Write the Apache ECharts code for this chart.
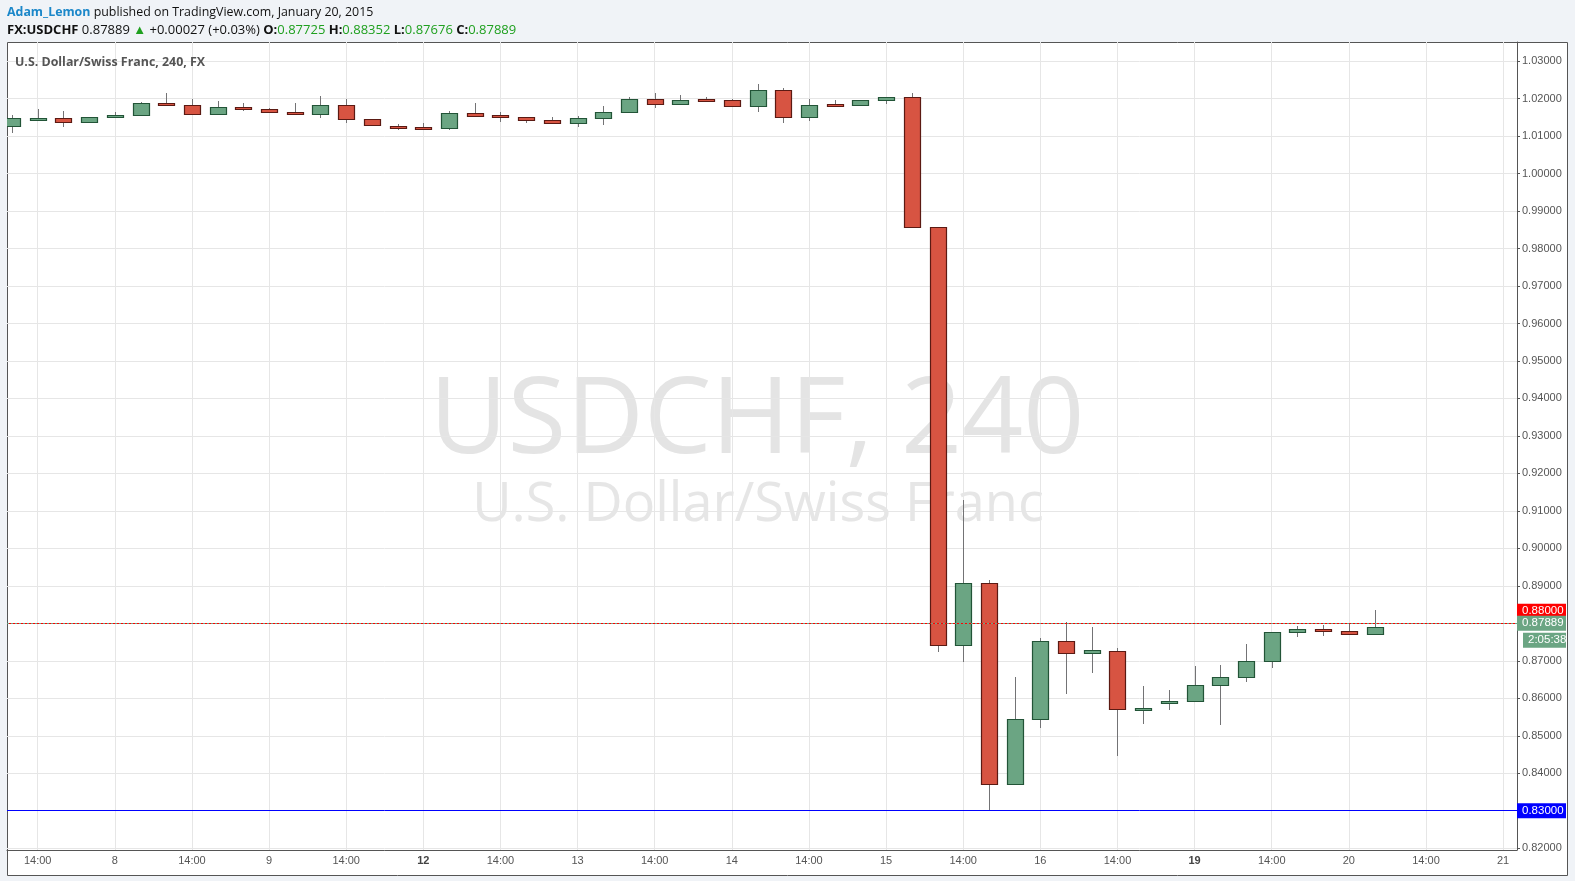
<!DOCTYPE html>
<html><head><meta charset="utf-8">
<script src="https://cdn.jsdelivr.net/npm/echarts@6/dist/echarts.min.js"></script>
<style>html,body{margin:0;padding:0;background:#f0f3f7;}#c{width:1575px;height:881px;}</style>
</head><body><div id="c"></div>
<script>
// 4-hour candles, USDCHF, Jan 7 – Jan 20 2015 (index = candle position)
const opens  = [1.0126,1.0147,1.0148,1.0137,1.0151,1.0156,1.0189,1.0184,1.0159,1.0178,1.0173,1.0165,1.0159,1.0184,1.0145,1.0126,1.0124,1.0121,1.0162,1.0155,1.0151,1.0143,1.0135,1.0148,1.0165,1.0200,1.0186,1.0198,1.0195,1.0181,1.0222,1.0151,1.0185,1.0184,1.0195,1.0203,0.9857,0.8742,0.8907,0.8371,0.8545,0.8752,0.8722,0.8727,0.8572,0.8589,0.8594,0.8635,0.8656,0.8699,0.8776,0.8784,0.8779,0.87725];
const closes = [1.0148,1.0148,1.0137,1.0151,1.0156,1.0189,1.0184,1.0159,1.0178,1.0172,1.0165,1.0159,1.0184,1.0145,1.0129,1.0124,1.0120,1.0162,1.0154,1.0151,1.0143,1.0135,1.0148,1.0165,1.0200,1.0186,1.0197,1.0194,1.0181,1.0222,1.0151,1.0184,1.0184,1.0195,1.0203,0.9857,0.8742,0.8907,0.8371,0.8545,0.8752,0.8722,0.8728,0.8572,0.8573,0.8594,0.8635,0.8656,0.8699,0.8776,0.8784,0.8779,0.8771,0.87889];
const highs  = [1.0157,1.0171,1.0166,1.0151,1.0163,1.0190,1.0215,1.0198,1.0193,1.0187,1.0174,1.0187,1.0206,1.0198,1.0146,1.0133,1.0135,1.0167,1.0187,1.0165,1.0152,1.0152,1.0154,1.0179,1.0203,1.0214,1.0209,1.0205,1.0200,1.0239,1.0227,1.0198,1.0195,1.0197,1.0203,1.0216,0.9858,0.9128,0.8916,0.8657,0.8761,0.8804,0.8790,0.8733,0.8632,0.8621,0.8686,0.8689,0.8745,0.8777,0.8792,0.8796,0.8800,0.88352];
const lows   = [1.0109,1.0144,1.0123,1.0135,1.0147,1.0155,1.0183,1.0158,1.0158,1.0166,1.0164,1.0158,1.0147,1.0134,1.0128,1.0115,1.0119,1.0115,1.0153,1.0138,1.0134,1.0134,1.0124,1.0130,1.0164,1.0175,1.0185,1.0191,1.0180,1.0164,1.0134,1.0139,1.0180,1.0180,1.0186,0.9856,0.8723,0.8698,0.8298,0.8369,0.8520,0.8611,0.8668,0.8445,0.8531,0.8569,0.8593,0.8530,0.8644,0.8682,0.8764,0.8767,0.8770,0.87676];
// time-axis tick positions (candle index) and their labels
const xTickIndex  = [1,4,7,10,13,16,19,22,25,28,31,34,37,40,43,46,49,52,55,58];
const xTickLabels = ['14:00','8','14:00','9','14:00','12','14:00','13','14:00','14','14:00','15','14:00','16','14:00','19','14:00','20','14:00','21'];
const xBoldLabels = ['12','19'];
const yTicks = [0.82,0.83,0.84,0.85,0.86,0.87,0.88,0.89,0.90,0.91,0.92,0.93,0.94,0.95,0.96,0.97,0.98,0.99,1.00,1.01,1.02,1.03];
const resistance = 0.88, support = 0.83, lastPrice = 0.87889, countdown = '2:05:38';

const candles = opens.map((o,i)=>[i,o,closes[i],lows[i],highs[i]]);
const UP_FILL='#6ba583', UP_LINE='#225437', DN_FILL='#d75442', DN_LINE='#5b1a13', WICK='#737375';
const chart = echarts.init(document.getElementById('c'));
const axisFont = '"Liberation Sans", Arial, sans-serif';
const hdrFont = '"Open Sans", sans-serif';
chart.setOption({
  animation:false,
  backgroundColor:'#f0f3f7',
  grid:{left:7, right:58, top:42, height:808, containLabel:false},
  xAxis:{type:'value', min:-0.194, max:58.54,
    axisLine:{show:true, onZero:false, lineStyle:{color:'#555', width:1}},
    axisTick:{show:false, customValues:xTickIndex},
    axisLabel:{customValues:xTickIndex, margin:5, color:'#555', fontSize:11, fontFamily:axisFont,
      formatter:(v)=>{const i=xTickIndex.indexOf(Math.round(v)); const t=xTickLabels[i]||''; return xBoldLabels.includes(t)?'{b|'+t+'}':t;},
      rich:{b:{fontWeight:'bold', color:'#444', fontSize:11, fontFamily:axisFont}}},
    splitLine:{show:true, lineStyle:{color:'#e6e6e6', width:1}}
  },
  yAxis:{type:'value', position:'right', min:0.81952, max:1.0351, scale:true,
    axisLine:{show:true, onZero:false, lineStyle:{color:'#555', width:1}},
    axisTick:{show:true, length:3, customValues:yTicks, lineStyle:{color:'#555'}},
    axisLabel:{customValues:yTicks, margin:5, color:'#555', fontSize:11, fontFamily:axisFont, formatter:(v)=>v.toFixed(5)},
    splitLine:{show:true, lineStyle:{color:'#e6e6e6', width:1}}
  },
  graphic:[
    {type:'rect', z:-10, shape:{x:7.5,y:42.5,width:1560,height:833}, style:{fill:'#fff', stroke:'#555', lineWidth:1}},
    {type:'text', z:-5, x:757, y:423, style:{text:'USDCHF, 240', fill:'#e4e4e4', font:'107px "Open Sans", sans-serif', textAlign:'center', textVerticalAlign:'middle'}},
    {type:'text', z:-5, x:758, y:506, style:{text:'U.S. Dollar/Swiss Franc', fill:'#e6e6e6', font:'54px "Open Sans", sans-serif', textAlign:'center', textVerticalAlign:'middle'}},
    {type:'text', z:5, x:15, y:62, style:{text:'U.S. Dollar/Swiss Franc, 240, FX', fill:'#555', font:'bold 12.4px "Open Sans", sans-serif', textVerticalAlign:'middle'}},
    {type:'text', z:5, x:7, y:12, style:{text:'{a|Adam_Lemon} published on TradingView.com, January 20, 2015', textVerticalAlign:'middle',
      fill:'#111', fontSize:12.4, fontFamily:hdrFont,
      rich:{a:{fill:'#1b87c9', fontWeight:'bold', fontSize:12.4, fontFamily:hdrFont}}}},
    {type:'text', z:5, x:7, y:30, style:{text:'{b|FX:USDCHF} 0.87889 {g|▲} +0.00027 (+0.03%) {b|O:}{g|0.87725} {b|H:}{g|0.88352} {b|L:}{g|0.87676} {b|C:}{g|0.87889}', textVerticalAlign:'middle',
      fill:'#111', fontSize:13, fontFamily:hdrFont,
      rich:{b:{fontWeight:'bold', fill:'#111', fontSize:13, fontFamily:hdrFont}, g:{fill:'#1fa01f', fontSize:13, fontFamily:hdrFont}}}}
  ],
  series:[{
    type:'custom', clip:true, data:candles, encode:{x:0,y:[1,2,3,4]},
    renderItem:(params, api)=>{
      const x=api.value(0), o=api.value(1), c=api.value(2), l=api.value(3), h=api.value(4);
      const pO=api.coord([x,o]), pC=api.coord([x,c]), pL=api.coord([x,l]), pH=api.coord([x,h]);
      const w=Math.round(api.size([1,0])[0]*0.62);
      const cx=Math.round(pO[0])+0.5;
      const up=c>=o;
      let top=Math.round(Math.min(pO[1],pC[1]))+0.5, bot=Math.round(Math.max(pO[1],pC[1]))+0.5;
      if(bot-top<2){bot=top+2;}
      return {type:'group', children:[
        {type:'line', shape:{x1:cx,y1:Math.round(pH[1]),x2:cx,y2:Math.round(pL[1])}, style:{stroke:WICK, lineWidth:1}},
        {type:'rect', shape:{x:cx-w/2, y:top, width:w, height:bot-top}, style:{fill:up?UP_FILL:DN_FILL, stroke:up?UP_LINE:DN_LINE, lineWidth:1.2}}
      ]};
    },
    markLine:{silent:true, symbol:'none', animation:false,
      label:{position:'end', distance:0, fontFamily:axisFont, fontSize:11.5, lineHeight:13, color:'#fff', padding:[1,5,1,5], width:39},
      data:[
        {yAxis:resistance, lineStyle:{color:'#ff0000', type:'solid', width:1}, label:{formatter:resistance.toFixed(5), backgroundColor:'#ff0000', offset:[0,-12]}},
        {yAxis:support, lineStyle:{color:'#0000ff', type:'solid', width:1}, label:{formatter:support.toFixed(5), backgroundColor:'#0000ff'}},
        {yAxis:lastPrice, lineStyle:{color:'#6ba583', type:[2,2], width:1}, label:{formatter:lastPrice.toFixed(5), backgroundColor:'#6ba583'}},
        {yAxis:lastPrice, lineStyle:{color:'rgba(0,0,0,0)', width:1}, label:{formatter:countdown, backgroundColor:'#6ba583', width:33, offset:[6,17]}}
      ]}
  }]
});
</script></body></html>
